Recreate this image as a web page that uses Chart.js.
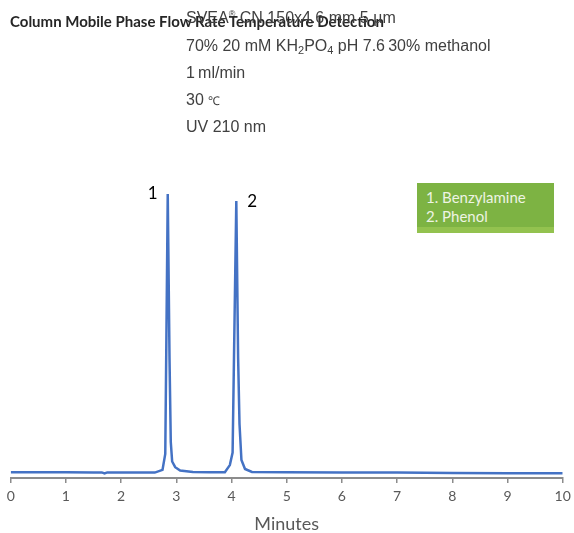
<!DOCTYPE html>
<html>
<head>
<meta charset="utf-8">
<script src="https://cdn.jsdelivr.net/npm/chart.js@4/dist/chart.umd.min.js"></script>
<style>
  body { margin: 0; background: #fff; }
  #wrap { position: relative; width: 574px; height: 533px; overflow: hidden; }
  #chromato { position: absolute; left: 0; top: 0; }
  .info { position: absolute; left: 186px; font-family: "Liberation Sans", Arial, sans-serif; font-size: 16px; line-height: 18px; color: #404040; white-space: nowrap; }
  .info sub { font-size: 11px; vertical-align: -3px; line-height: 0; }
  #cabecalho { position: absolute; left: 10px; top: 12px; font-family: Lato, sans-serif; font-weight: bold; font-size: 15px; line-height: 18px; color: #262626; white-space: nowrap; }
  #legenda { position: absolute; left: 417px; top: 183px; width: 137px; height: 50px; background: #7db343; }
  #legenda .faixa { position: absolute; left: 0; bottom: 0; width: 100%; height: 6px; background: #93c24f; }
  #legenda .item { position: absolute; left: 9px; font-family: Lato, sans-serif; font-size: 15px; line-height: 16px; color: #eef4e4; white-space: nowrap; }
</style>
</head>
<body>
<div id="wrap">
  <canvas id="chromato" width="574" height="533"></canvas>
  <div id="cabecalho">Column Mobile Phase Flow Rate Temperature Detection</div>
  <div class="info" style="top:5px">SVEA<sup style="font-size:9px">®</sup> CN 150x4.6 mm 5 µm</div>
  <div class="info" style="top:37px">70% 20 mM KH<sub>2</sub>PO<sub>4</sub> pH 7.6&thinsp;30% methanol</div>
  <div class="info" style="top:64px">1&thinsp;ml/min</div>
  <div class="info" style="top:91px">30 <span style="font-size:12px">℃</span></div>
  <div class="info" style="top:118px">UV 210 nm</div>
  <div id="legenda">
    <div class="item" style="top:6px">1. Benzylamine</div>
    <div class="item" style="top:25px">2. Phenol</div>
    <div class="faixa"></div>
  </div>
</div>
<script>
// tempo de retencao (min) e sinal do detector
const minutos = [0, 0.5, 1.0, 1.5, 1.65, 1.7, 1.75, 2.0, 2.3, 2.61, 2.75, 2.8, 2.817, 2.845, 2.877, 2.9, 2.925, 2.98, 3.07, 3.3,
                 3.6, 3.88, 3.97, 4.02, 4.045, 4.087, 4.12, 4.145, 4.18, 4.245, 4.37, 5, 6, 7, 8, 9, 10];
const sinal = [1.9, 1.9, 1.9, 1.85, 1.85, 1.5, 1.85, 1.8, 1.8, 1.8, 2.7, 8, 40, 94.7, 40, 12, 5.5, 3.6, 2.5, 2.0,
               1.9, 1.9, 4.3, 8.5, 40, 92.3, 40, 18, 6, 3.0, 2.0, 1.9, 1.85, 1.8, 1.7, 1.6, 1.55];

// picos identificados
const picos = ['1', '2'];
const picosTempo = [2.845, 4.087];
const ticksX = [0, 1, 2, 3, 4, 5, 6, 7, 8, 9, 10];

const pontos = minutos.map((m, i) => ({ x: m, y: sinal[i] }));

// escreve o numero do pico ao lado do topo
const rotulosPicos = {
    id: 'rotulosPicos',
    afterDatasetsDraw(chart) {
        const ctx = chart.ctx;
        const sx = chart.scales.x;
        const sy = chart.scales.y;
        ctx.save();
        ctx.font = '17px Lato';
        ctx.fillStyle = '#000';
        ctx.textAlign = 'center';
        ctx.textBaseline = 'middle';
        picos.forEach((nome, i) => {
            const idx = minutos.indexOf(picosTempo[i]);
            const px = sx.getPixelForValue(minutos[idx]);
            const py = sy.getPixelForValue(sinal[idx]);
            const dx = i == 0 ? -15 : 16;
            ctx.fillText(nome, px + dx, py);
        });
        ctx.restore();
    }
};

var ctxCromato = document.getElementById('chromato').getContext('2d');
myChartCromato = new Chart(ctxCromato, {
    type: 'line',
    data: {
        datasets: [
            {
                label: 'UV 210 nm',
                data: pontos,
                borderColor: '#4472c4',
                borderWidth: 2.5,
                pointRadius: 0,
                tension: 0,
                fill: false
            }
        ]
    },
    options: {
        responsive: false,
        animation: false,
        layout: { padding: { top: 178, left: 10.7, right: 11.3, bottom: 0 } },
        plugins: {
            legend: { display: false },
            tooltip: { enabled: false }
        },
        scales: {
            x: {
                type: 'linear',
                min: 0,
                max: 10,
                afterFit(scale) {
                    scale.height = 55;
                    scale.paddingLeft = 0;
                    scale.paddingRight = 0;
                },
                afterBuildTicks(scale) { scale.ticks = ticksX.map(v => ({ value: v })); },
                grid: { drawOnChartArea: false, drawTicks: true, tickLength: 5, color: '#8c8c8c', lineWidth: 1.5 },
                border: { color: '#8c8c8c', width: 2 },
                ticks: { color: '#595959', font: { family: 'Lato', size: 14 }, padding: 5, maxRotation: 0 },
                title: { display: true, text: 'Minutes', color: '#595959', font: { family: 'Lato', size: 18 }, padding: { top: 0, bottom: -2 } }
            },
            y: {
                display: false,
                min: 0,
                max: 100
            }
        }
    },
    plugins: [rotulosPicos]
});
</script>
</body>
</html>
